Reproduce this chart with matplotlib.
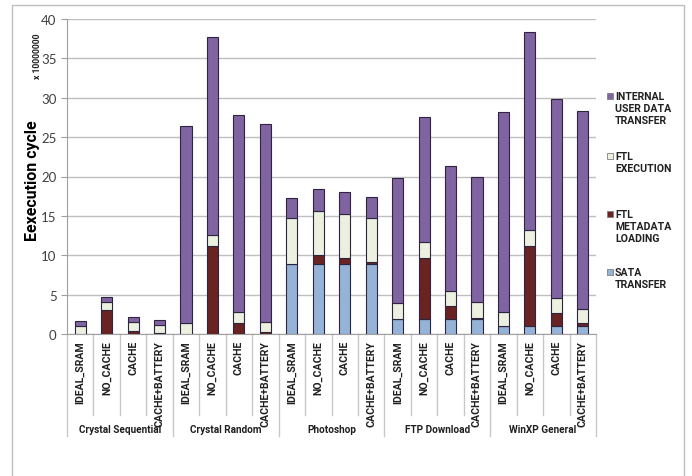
import matplotlib
matplotlib.use("Agg")
import matplotlib.pyplot as plt
from matplotlib.patches import Rectangle
from matplotlib.lines import Line2D
import numpy as np

plt.rcParams['font.family'] = ['Lato', 'DejaVu Sans']
BOLDFAM = ['Roboto', 'DejaVu Sans']

groups = ["Crystal Sequential", "Crystal Random", "Photoshop", "FTP Download", "WinXP General"]
configs = ["IDEAL_SRAM", "NO_CACHE", "CACHE", "CACHE+BATTERY"]

# values in units of 10,000,000 cycles, order: groups x configs
sata = [0.0, 0.0, 0.0, 0.0,
        0.0, 0.0, 0.0, 0.0,
        8.95, 8.95, 8.95, 8.95,
        1.86, 1.86, 1.86, 1.86,
        1.0, 1.05, 1.0, 1.05]
metadata = [0.0, 3.1, 0.42, 0.1,
            0.0, 11.2, 1.4, 0.3,
            0.0, 1.05, 0.68, 0.15,
            0.0, 7.75, 1.65, 0.21,
            0.0, 10.15, 1.67, 0.3]
ftl_exec = [1.05, 1.0, 1.14, 1.08,
            1.35, 1.37, 1.35, 1.26,
            5.72, 5.67, 5.6, 5.6,
            2.04, 2.03, 2.0, 2.03,
            1.84, 1.96, 1.86, 1.78]
internal = [0.65, 0.56, 0.54, 0.6,
            25.1, 25.2, 25.1, 25.15,
            2.66, 2.71, 2.8, 2.66,
            15.87, 15.86, 15.88, 15.84,
            25.3, 25.15, 25.27, 25.23]

series = [("SATA TRANSFER", sata, "#95B3D7"),
          ("FTL METADATA LOADING", metadata, "#6A2323"),
          ("FTL EXECUTION", ftl_exec, "#EBF1DE"),
          ("INTERNAL USER DATA TRANSFER", internal, "#8064A2")]

W, H = 692, 477
fig = plt.figure(figsize=(W / 100, H / 100), dpi=100)

def fx(px):
    return px / W

def fy(py):
    return 1 - py / H

# outer frame
fig.patches.append(Rectangle((fx(12), fy(490)), fx(684) - fx(12), fy(6) - fy(490),
                             transform=fig.transFigure, fill=False,
                             edgecolor="#BFBFBF", linewidth=1.0))

ax_l, ax_r, ax_t, ax_b = 67, 596, 20, 335
ax = fig.add_axes([fx(ax_l), fy(ax_b), fx(ax_r) - fx(ax_l), fy(ax_t) - fy(ax_b)])

n = len(sata)
x = np.arange(n)
bottom = np.zeros(n)
for name, vals, col in series:
    v = np.array(vals)
    ax.bar(x, v, width=0.42, bottom=bottom, color=col, edgecolor="#2E2440",
           linewidth=0.8, zorder=3)
    bottom += v

ax.set_xlim(-0.5, n - 0.5)
ax.set_ylim(0, 40)
ax.set_yticks(np.arange(0, 41, 5))
ax.tick_params(axis='y', labelsize=9.5, colors="#404040", length=4, color="#A0A0A0")
for lab in ax.get_yticklabels():
    lab.set_color("#404040")
ax.set_xticks([])
ax.grid(axis='y', color="#BFBFBF", linewidth=1.0, zorder=0)
for s in ["top", "right"]:
    ax.spines[s].set_visible(False)
ax.spines["left"].set_color("#A0A0A0")
ax.spines["bottom"].set_color("#A0A0A0")

# tick labels and separators below axis
trans = ax.get_xaxis_transform()
def ay(py):
    # pixel y to axes fraction
    return (ax_b - py) / (ax_b - ax_t)

for i in range(n):
    ax.text(i, ay(341), configs[i % 4], rotation=90, ha='center', va='top',
            fontsize=7.6, fontweight='bold', family=BOLDFAM, color="#202020",
            transform=trans, clip_on=False)
for i in range(n + 1):
    xb = i - 0.5
    if i % 4 == 0:
        ax.add_line(Line2D([xb, xb], [0, ay(437)], transform=trans, color="#C8C8C8",
                           linewidth=1.0, clip_on=False))
    else:
        ax.add_line(Line2D([xb, xb], [0, ay(416)], transform=trans, color="#C8C8C8",
                           linewidth=1.0, clip_on=False))
for g, name in enumerate(groups):
    ax.text(g * 4 + 1.5, ay(430), name, ha='center', va='center', fontsize=7.2,
            fontweight='bold', family=BOLDFAM, color="#202020", transform=trans,
            clip_on=False)

# y labels
fig.text(fx(33), fy(181), "Eexecution cycle", rotation=90, ha='center', va='center',
         fontsize=11.5, fontweight='bold', family=BOLDFAM, color="#000000")
fig.text(fx(38), fy(56), "x 10000000", rotation=90, ha='center', va='center',
         fontsize=6.2, fontweight='bold', family=BOLDFAM, color="#202020")

# legend (custom)
leg = [("INTERNAL USER DATA TRANSFER", "#8064A2", ["INTERNAL", "USER DATA", "TRANSFER"], 97),
       ("FTL EXECUTION", "#EBF1DE", ["FTL", "EXECUTION"], 157),
       ("FTL METADATA LOADING", "#6A2323", ["FTL", "METADATA", "LOADING"], 215),
       ("SATA TRANSFER", "#95B3D7", ["SATA", "TRANSFER"], 273)]
for name, col, lines, y0 in leg:
    fig.patches.append(Rectangle((fx(607), fy(y0 + 3)), 6 / W, 6 / H,
                                 transform=fig.transFigure, facecolor=col,
                                 edgecolor="#7F7F7F", linewidth=0.6))
    for k, line in enumerate(lines):
        fig.text(fx(615), fy(y0 + k * 11.8), line, ha='left', va='center',
                 fontsize=7.6, fontweight='bold', family=BOLDFAM, color="#202020")

fig.savefig("out.png", dpi=100)
